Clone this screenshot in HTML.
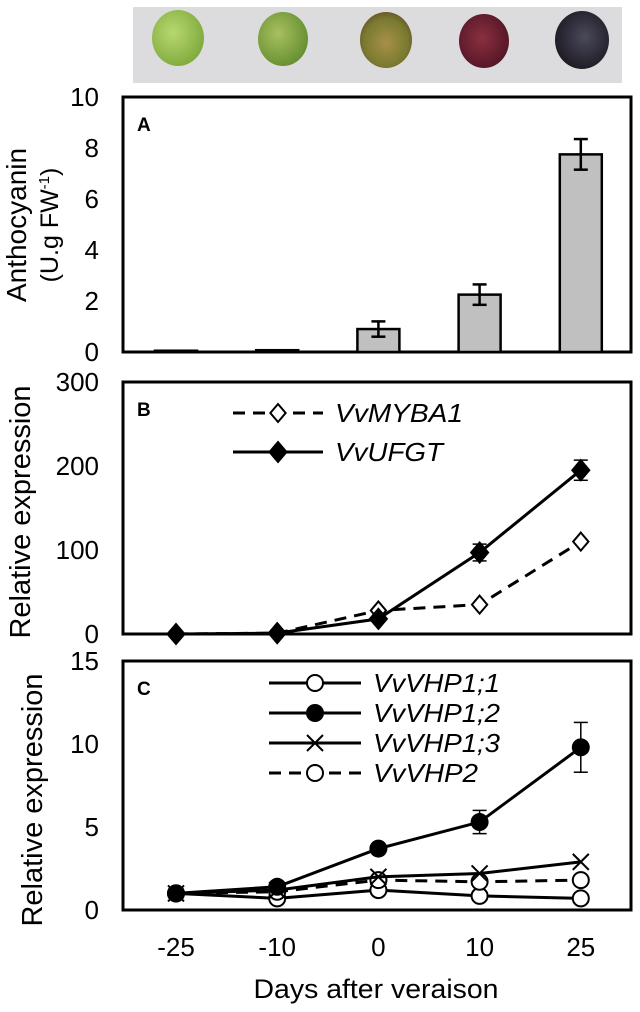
<!DOCTYPE html>
<html><head><meta charset="utf-8"><style>
html,body{margin:0;padding:0;background:#fff;}
svg{display:block;font-family:"Liberation Sans",Arial,sans-serif;}
</style></head><body>
<svg id="fig" width="640" height="1012" viewBox="0 0 640 1012" xmlns="http://www.w3.org/2000/svg">
<defs>
<radialGradient id="g1" cx="0.4" cy="0.4" r="0.7"><stop offset="0" stop-color="#b8d870"/><stop offset="1" stop-color="#7aa638"/></radialGradient>
<radialGradient id="g2" cx="0.4" cy="0.4" r="0.7"><stop offset="0" stop-color="#a8c060"/><stop offset="1" stop-color="#5f8a2c"/></radialGradient>
<radialGradient id="g3" cx="0.5" cy="0.55" r="0.7"><stop offset="0" stop-color="#a89048"/><stop offset="0.6" stop-color="#7a7a30"/><stop offset="1" stop-color="#5a3a20"/></radialGradient>
<radialGradient id="g4" cx="0.45" cy="0.45" r="0.7"><stop offset="0" stop-color="#8a3040"/><stop offset="1" stop-color="#4a1020"/></radialGradient>
<radialGradient id="g5" cx="0.55" cy="0.45" r="0.7"><stop offset="0" stop-color="#4a4a5a"/><stop offset="1" stop-color="#15101a"/></radialGradient>
</defs>
<g>
<rect x="133" y="7" width="489" height="76" fill="#dcdcde"/>
<ellipse cx="178" cy="38" rx="26" ry="28" fill="url(#g1)"/>
<ellipse cx="283" cy="39" rx="25" ry="27" fill="url(#g2)"/>
<ellipse cx="386" cy="40" rx="26" ry="28" fill="url(#g3)"/>
<ellipse cx="484" cy="41" rx="25" ry="27" fill="url(#g4)"/>
<ellipse cx="582" cy="40" rx="27" ry="29" fill="url(#g5)"/>
</g>
<g id="plots"></g>
</svg>
<script>
const days = ["-25","-10","0","10","25"];
const anthoValues = [0.05, 0.07, 0.9, 2.25, 7.75];
const anthoErrors = [0.02, 0.03, 0.3, 0.4, 0.6];
const anthoTicks = [0,2,4,6,8,10];
const mybaValues = [0, 1, 28, 35, 110];
const ufgtValues = [0, 1, 18, 97, 195];
const ufgtErrors = [0, 0, 0, 10, 12];
const bTicks = [0,100,200,300];
const vhp11Values = [1.0, 0.7, 1.2, 0.85, 0.7];
const vhp12Values = [1.0, 1.4, 3.7, 5.3, 9.8];
const vhp12Errors = [0, 0, 0, 0.7, 1.5];
const vhp13Values = [1.0, 1.2, 2.0, 2.2, 2.9];
const vhp2Values = [1.0, 1.1, 1.8, 1.7, 1.8];
const cTicks = [0,5,10,15];

const NS="http://www.w3.org/2000/svg";
const root=document.getElementById('plots');
function el(tag,attrs,parent){const e=document.createElementNS(NS,tag);for(const k in attrs)e.setAttribute(k,attrs[k]);(parent||root).appendChild(e);return e;}
const X0=123,X1=631;
function xPos(i){return 176+i*101.2;}
function yScale(top,bot,max){return v=>bot-(v/max)*(bot-top);}

function panel(name,top,bot,max,ticks,letter){
  const g=el('g',{});
  
  
  const y=yScale(top,bot,max);
  const box=el('rect',{x:X0,y:top,width:X1-X0,height:bot-top,fill:'none',stroke:'#000','stroke-width':3},g);
  
  
  ticks.forEach(t=>{
    const tx=el('text',{x:99,y:y(t)+9,'text-anchor':'end','font-size':26},g);
    tx.textContent=t;
    
    
  });
  const L=el('text',{x:137,y:top+34,'font-size':19,'font-weight':'bold'},g);
  L.textContent=letter;
  
  
  return {g,y};
}
function errBar(g,x,y0,y1,w,sw){
  el('line',{x1:x,x2:x,y1:y0,y2:y1,stroke:'#000','stroke-width':sw},g);
  el('line',{x1:x-w,x2:x+w,y1:y0,y2:y0,stroke:'#000','stroke-width':sw},g);
  el('line',{x1:x-w,x2:x+w,y1:y1,y2:y1,stroke:'#000','stroke-width':sw},g);
}
function marker(g,type,x,y){
  let m;
  if(type==='dia'||type==='odia'){
    const r=type==='dia'?10:9;
    m=el('polygon',{points:`${x},${y-r} ${x+r*0.85},${y} ${x},${y+r} ${x-r*0.85},${y}`,fill:type==='dia'?'#000':'#fff',stroke:'#000','stroke-width':2},g);
  } else if(type==='fc'){ m=el('circle',{cx:x,cy:y,r:9,fill:'#000'},g);}
  else if(type==='oc'){ m=el('circle',{cx:x,cy:y,r:8,fill:'#fff',stroke:'#000','stroke-width':2},g);}
  else if(type==='x'){ m=el('path',{d:`M${x-8},${y-8}L${x+8},${y+8}M${x-8},${y+8}L${x+8},${y-8}`,stroke:'#000','stroke-width':2},g);}
  
  
}
function series(g,y,vals,type,dash,name){
  const pl=el('polyline',{points:vals.map((v,i)=>xPos(i)+','+y(v)).join(' '),fill:'none',stroke:'#000','stroke-width':3,'stroke-dasharray':dash||'none'},g);
  
  
  vals.forEach((v,i)=>marker(g,type,xPos(i),y(v)));
}
function legend(g,x1,x2,yy,type,dash,label,w){
  const l=el('line',{x1:x1,x2:x2,y1:yy,y2:yy,stroke:'#000','stroke-width':3,'stroke-dasharray':dash||'none'},g);
  
  
  marker(g,type,(x1+x2)/2,yy);
  const t=el('text',{x:x2+12,y:yy+9,'font-size':26,'font-style':'italic',textLength:w,lengthAdjust:'spacingAndGlyphs'},g);
  t.textContent=label;
  
  
}
function ylabel(lines,cx,cy){
  lines.forEach((s,i)=>{
    const t=el('text',{x:0,y:0,'font-size':s.fs,'text-anchor':'middle',transform:`translate(${cx+i*32},${cy}) rotate(-90)`});
    t.innerHTML=s.t;
    
    
  });
}

// Panel A
const A=panel('panel-a-anthocyanin',97,352,10,anthoTicks,'A');
anthoValues.forEach((v,i)=>{
  const b=el('rect',{x:xPos(i)-21,y:A.y(v),width:42,height:352-A.y(v),fill:'#c0c0c0',stroke:'#000','stroke-width':2.5},A.g);
  
  
  if(anthoErrors[i]>0.1) errBar(A.g,xPos(i),A.y(v+anthoErrors[i]),A.y(v-anthoErrors[i]),7,2.5);
});
ylabel([{t:'Anthocyanin',fs:28},{t:'(U.g FW<tspan font-size="15" dy="-9">-1</tspan><tspan dy="9">)</tspan>',fs:25}],26,225);

// Panel B
const B=panel('panel-b-expression',382,634,300,bTicks,'B');
ufgtValues.forEach((v,i)=>{if(ufgtErrors[i])errBar(B.g,xPos(i),B.y(v+ufgtErrors[i]),B.y(v-ufgtErrors[i]),7,1.5);});
series(B.g,B.y,mybaValues,'odia','12,8','vvmyba1');
series(B.g,B.y,ufgtValues,'dia',null,'vvufgt');
legend(B.g,233,323,413,'odia','12,8','VvMYBA1',128);
legend(B.g,233,323,452,'dia',null,'VvUFGT',108);
ylabel([{t:'Relative expression',fs:29}],30,512);

// Panel C
const C=panel('panel-c-expression',661,910,15,cTicks,'C');
vhp12Values.forEach((v,i)=>{if(vhp12Errors[i])errBar(C.g,xPos(i),C.y(v+vhp12Errors[i]),C.y(v-vhp12Errors[i]),7,1.5);});
series(C.g,C.y,vhp11Values,'oc',null,'vvvhp1-1');
series(C.g,C.y,vhp2Values,'oc','12,8','vvvhp2');
series(C.g,C.y,vhp13Values,'x',null,'vvvhp1-3');
series(C.g,C.y,vhp12Values,'fc',null,'vvvhp1-2');
legend(C.g,269,361,683,'oc',null,'VvVHP1;1',127);
legend(C.g,269,361,713,'fc',null,'VvVHP1;2',127);
legend(C.g,269,361,743,'x',null,'VvVHP1;3',127);
legend(C.g,269,361,773,'oc','12,8','VvVHP2',105);
ylabel([{t:'Relative expression',fs:29}],42,800);

days.forEach((d,i)=>{
  const t=el('text',{x:xPos(i),y:956,'text-anchor':'middle','font-size':26});
  t.textContent=d;
  
  
});
const xt=el('text',{x:376,y:998,'text-anchor':'middle','font-size':27,textLength:245,lengthAdjust:'spacingAndGlyphs'});
xt.textContent='Days after veraison';


</script>
</body></html>
